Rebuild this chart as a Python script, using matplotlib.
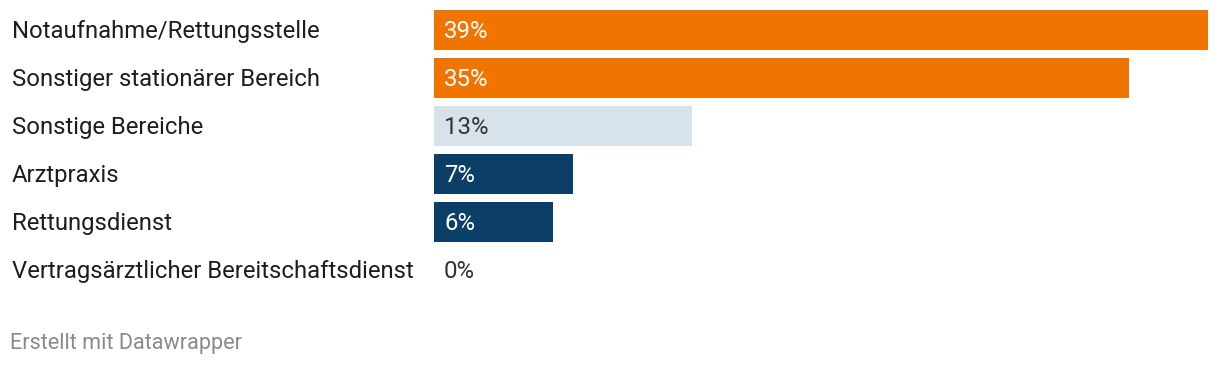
import matplotlib
matplotlib.use("Agg")
import matplotlib.pyplot as plt
from matplotlib.transforms import blended_transform_factory, offset_copy

categories = ["Notaufnahme/Rettungsstelle", "Sonstiger stationärer Bereich",
              "Sonstige Bereiche", "Arztpraxis", "Rettungsdienst",
              "Vertragsärztlicher Bereitschaftsdienst"]
values = [39, 35, 13, 7, 6, 0]
bar_colors = ["#f07400", "#f07400", "#d8e2eb", "#0b3f67", "#0b3f67", "#0b3f67"]
label_colors = ["white", "white", "#333333", "white", "white", "#333333"]
footer = "Erstellt mit Datawrapper"

plt.rcParams['font.family'] = ['Roboto', 'DejaVu Sans']

W, H = 1220, 366
fig = plt.figure(figsize=(W / 100, H / 100), dpi=100)
left_px, right_px = 434, 1208
top_px, bot_px = 6, 294
ax = fig.add_axes([left_px / W, 1 - bot_px / H, (right_px - left_px) / W, (bot_px - top_px) / H])
ax.set_xlim(0, 39)
ax.set_ylim(len(values) - 0.5, -0.5)
ax.axis("off")

ypos = list(range(len(values)))
ax.barh(ypos, values, height=40 / 48, color=bar_colors)

trans = blended_transform_factory(fig.transFigure, ax.transData)
trans = offset_copy(trans, fig=fig, x=0, y=-1.5, units="dots")
for i, (cat, v) in enumerate(zip(categories, values)):
    ax.text(12 / W, i, cat, transform=trans, fontsize=17.2, color="#1d1d1d",
            va="center", ha="left")
    ax.annotate(f"{v}%", xy=(0, i), xytext=(10, -1.5), textcoords="offset pixels",
                fontsize=17.3, color=label_colors[i], va="center", ha="left")

fig.text(10 / W, 1 - 343 / H, footer, fontsize=15.6, color="#8a8a8a",
         va="center", ha="left")

fig.savefig("out.png", dpi=100)
